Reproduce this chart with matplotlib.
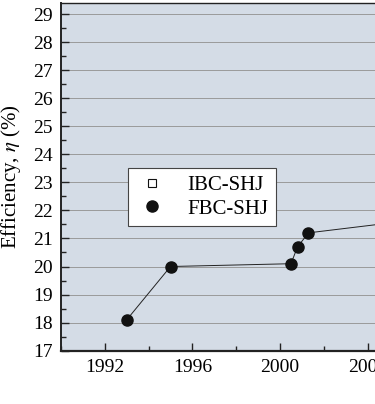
import matplotlib.pyplot as plt
from matplotlib.ticker import MultipleLocator

# Data (points right of the crop are estimates)
fbc_year = [1993, 1995, 2000.5, 2000.8, 2001.3, 2005, 2009, 2013]
fbc_eff = [18.1, 20.0, 20.1, 20.7, 21.2, 21.55, 23.0, 24.7]
ibc_year = [2014, 2017]
ibc_eff = [25.6, 26.7]

plt.rcParams['font.family'] = ['Liberation Serif', 'DejaVu Serif']
plt.rcParams['mathtext.fontset'] = 'stix'

fig = plt.figure(figsize=(3.75, 4.04), dpi=100)
# axes run past the right edge, the chart is cropped like the original
ax = fig.add_axes([0.1627, 0.132, 1.752, 0.861])
ax.set_facecolor('#d4dce6')

ax.plot(fbc_year, fbc_eff, '-', color='#222222', lw=0.7, marker='o',
        ms=8, mfc='#111111', mec='#111111', label='FBC-SHJ', zorder=3)
ax.plot(ibc_year, ibc_eff, '-', color='#222222', lw=0.7, marker='s',
        ms=6, mfc='white', mec='#111111', mew=0.8, label='IBC-SHJ', zorder=3)

ax.set_xlim(1990, 2020)
ax.set_ylim(17, 29.4)
ax.xaxis.set_major_locator(MultipleLocator(4))
ax.xaxis.set_minor_locator(MultipleLocator(2))
ax.yaxis.set_major_locator(MultipleLocator(1))
ax.yaxis.set_minor_locator(MultipleLocator(0.5))
ax.tick_params(which='both', direction='in', labelsize=14, color='#222222')
ax.tick_params(which='major', length=6, width=1.0, pad=6)
ax.tick_params(which='minor', length=3.5, width=1.0)
ax.grid(axis='y', which='major', color='#9a9a9a', lw=0.7)
ax.set_axisbelow(True)

for s in ax.spines.values():
    s.set_color('#222222')
ax.spines['left'].set_linewidth(1.4)
ax.spines['bottom'].set_linewidth(1.6)
ax.spines['top'].set_linewidth(1.0)

ax.set_ylabel(r'Efficiency, $\eta$ (%)', fontsize=15, labelpad=7)

h, l = ax.get_legend_handles_labels()
leg = ax.legend(h[::-1], l[::-1], loc='upper left', bbox_to_anchor=(0.102, 0.525),
                borderaxespad=0, fontsize=15, frameon=True, fancybox=False,
                edgecolor='#444444', framealpha=1, handlelength=1.6,
                handletextpad=0.9, borderpad=0.35, labelspacing=0.2)
leg.get_frame().set_linewidth(0.8)
for line in leg.get_lines():
    line.set_linestyle('none')

fig.savefig('out.png', dpi=100)
